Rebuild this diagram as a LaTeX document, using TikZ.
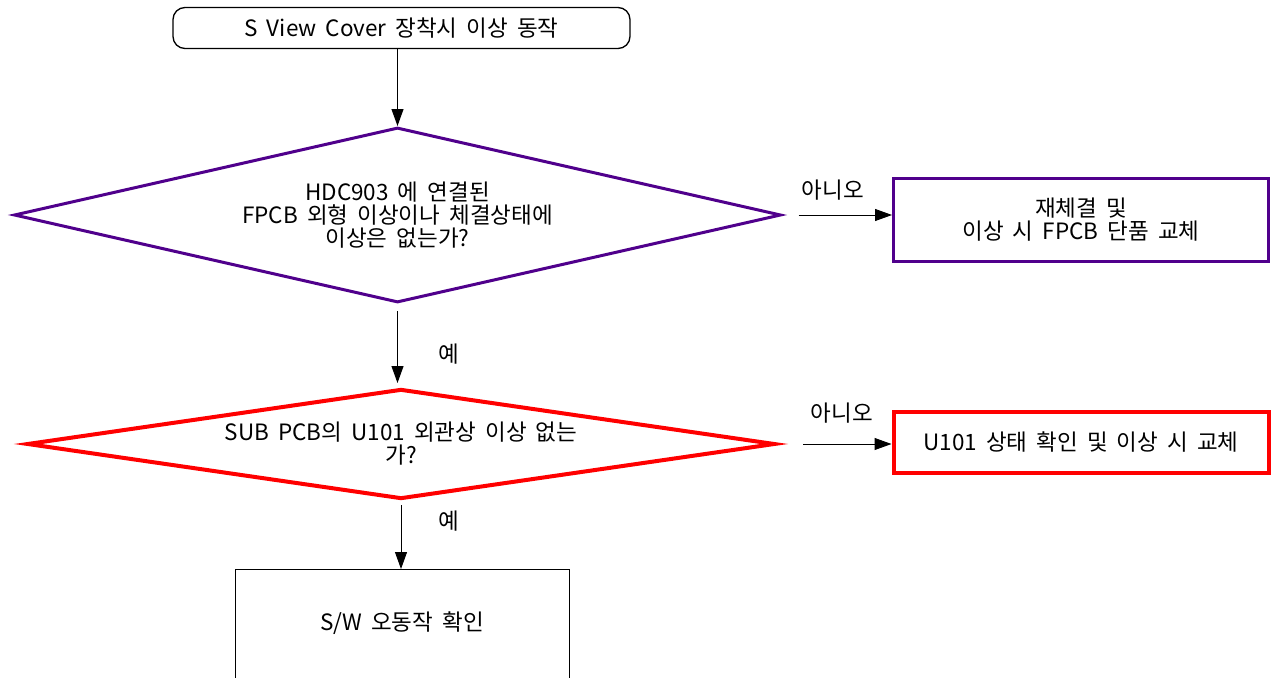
\documentclass[tikz,border=0pt]{standalone}
\usepackage{fontspec}
\setmainfont[WordSpace=1.8]{Noto Sans CJK KR}
\usetikzlibrary{shapes.geometric,arrows.meta}
\definecolor{dpurple}{RGB}{80,0,140}
\definecolor{dred}{RGB}{255,0,0}
\begin{document}
\begin{tikzpicture}[x=1pt,y=-1pt,
  txt/.style={font=\fontsize{22.5}{23}\selectfont, align=center, text=black},
  term/.style={draw, rounded corners=12pt, line width=1.3pt, minimum width=457pt, minimum height=41pt, txt},
  dec/.style={diamond, draw, inner sep=0pt, txt},
  procbox/.style={draw, rectangle, inner sep=0pt, txt},
  arr/.style={-{Triangle[length=17pt,width=12pt]}, line width=1pt, black},
  lbl/.style={font=\fontsize{22.5}{23}\selectfont, text=black}]
\useasboundingbox (0,0) rectangle (1271,677);
\clip (0,0) rectangle (1271,677);
\fill[white] (0,0) rectangle (1271,677);

\node[term] (top) at (401.5,28) {S View Cover 장착시 이상 동작};
\node[dec, draw=dpurple, line width=3pt, aspect=4.4, minimum width=767pt, minimum height=175pt] (d1) at (397.5,215)
  {HDC903 에 연결된\\FPCB 외형 이상이나 체결상태에\\이상은 없는가?};
\node[procbox, draw=dpurple, line width=3pt, minimum width=375pt, minimum height=83pt] (b1) at (1081,219.5)
  {재체결 및\\이상 시 FPCB 단품 교체};
\node[dec, draw=dred, line width=4pt, aspect=6.5, minimum width=748pt, minimum height=110pt] (d2) at (401,444)
  {SUB PCB의 U101 외관상 이상 없는\\가?};
\node[procbox, draw=dred, line width=4pt, minimum width=375pt, minimum height=61pt] (b2) at (1081,442)
  {U101 상태 확인 및 이상 시 교체};
\node[procbox, draw=black, line width=1pt, minimum width=334pt, minimum height=140pt, anchor=north] (b3) at (402,569) {};
\node[txt] (b3t) at (402,623) {S/W 오동작 확인};

\draw[arr] (top.south -| d1.north) -- (d1.north);
\draw[arr, shorten <=16pt] (d1.east) -- (d1.east -| b1.west);
\node[lbl] (n1) at (833,190) {아니오};
\draw[arr, shorten <=7pt, shorten >=4pt] (d1.south) -- (d1.south |- d2.north);
\node[lbl] (y1) at (449,354) {예};
\draw[arr, shorten <=26pt] (d2.east) -- (d2.east -| b2.west);
\node[lbl] (n2) at (842,413) {아니오};
\draw[arr, shorten <=4pt] (d2.south) -- (d2.south |- b3.north);
\node[lbl] (y2) at (449,521) {예};
\end{tikzpicture}
\end{document}
